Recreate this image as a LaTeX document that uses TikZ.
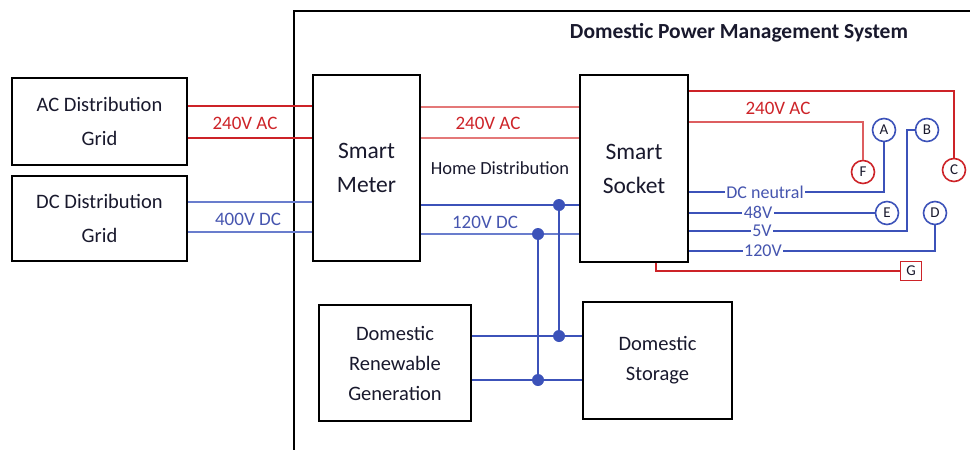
\documentclass[tikz,border=0pt]{standalone}
\usepackage{fontspec}
\setmainfont{Carlito}
\definecolor{acred}{RGB}{205,35,40}
\definecolor{lightred}{RGB}{228,120,120}
\definecolor{dcblue}{RGB}{60,82,185}
\definecolor{lightblue}{RGB}{105,125,205}
\definecolor{lblblue}{RGB}{70,85,175}
\definecolor{txt}{RGB}{25,25,45}
\begin{document}
\begin{tikzpicture}[x=1pt,y=-1pt,
  box/.style={draw=black,line width=2pt,fill=white,align=center,text=txt,inner sep=0pt,font=\fontsize{20.5}{34}\selectfont},
  bigbox/.style={box,font=\fontsize{23.5}{34}\selectfont},
  genbox/.style={box,font=\fontsize{20.5}{30}\selectfont},
  cir/.style={circle,draw,line width=1.6pt,fill=white,minimum size=23pt,inner sep=0pt,font=\fontsize{15}{15}\selectfont,text=txt},
  acline/.style={draw=acred,line width=2pt},
  pinkline/.style={draw=lightred,line width=2.2pt},
  dcline/.style={draw=dcblue,line width=2pt},
  ldcline/.style={draw=lightblue,line width=1.8pt},
  redlbl/.style={text=acred,font=\fontsize{19}{19}\selectfont,inner sep=1pt},
  bluelbl/.style={text=lblblue,font=\fontsize{19}{19}\selectfont,inner sep=1pt},
  onlbl/.style={text=lblblue,font=\fontsize{18}{18}\selectfont,fill=white,inner sep=1.5pt},
  dot/.style={circle,fill=dcblue,inner sep=0pt,minimum size=12pt}
]
\useasboundingbox (0,0) rectangle (970,450);
% outer system frame (open at right and bottom)
\draw[line width=2pt] (970,11) coordinate (fr1) -- (294,11) coordinate (fr2) -- (294,450) coordinate (fr3);
\node[font=\bfseries\fontsize{21.5}{22}\selectfont,text=txt] (title) at (739,33) {Domestic Power Management System};

% boxes
\node[box,minimum width=175pt,minimum height=87pt] (ac) at (99.5,121.5) {AC Distribution\\Grid};
\node[box,minimum width=175pt,minimum height=85pt] (dc) at (99.5,218.5) {DC Distribution\\Grid};
\node[bigbox,minimum width=107pt,minimum height=186pt] (meter) at (366.5,168) {Smart\\Meter};
\node[bigbox,minimum width=108pt,minimum height=187pt,text depth=-3pt] (socket) at (634,168.5) {Smart\\Socket};
\node[genbox,minimum width=152pt,minimum height=116pt] (ren) at (395,363) {Domestic\\Renewable\\Generation};
\node[genbox,minimum width=149pt,minimum height=117pt] (sto) at (657.5,360.5) {Domestic\\Storage};

% grid to meter
\draw[acline] (ac.east |- 0,106) -- (meter.west |- 0,106);
\draw[acline] (ac.east |- 0,138) -- (meter.west |- 0,138);
\node[redlbl] (l1) at (245,123) {240V AC};
\draw[ldcline] (dc.east |- 0,202) -- (meter.west |- 0,202);
\draw[ldcline] (dc.east |- 0,232) -- (meter.west |- 0,232);
\node[bluelbl] (l2) at (248,219) {400V DC};

% meter to socket
\draw[pinkline] (meter.east |- 0,107) -- (socket.west |- 0,107);
\draw[pinkline,line width=1.8pt] (meter.east |- 0,138) -- (socket.west |- 0,138);
\node[redlbl] (l3) at (488,123) {240V AC};
\node[font=\fontsize{18.5}{19}\selectfont,text=txt] (hd) at (500,168) {Home Distribution};
\coordinate (j1) at (559,205);
\coordinate (j2) at (538,234);
\coordinate (j3) at (559,336);
\coordinate (j4) at (538,380);
\draw[dcline] (meter.east |- j1) -- (socket.west |- j1);
\draw[ldcline] (meter.east |- j2) -- (socket.west |- j2);
\node[bluelbl] (l4) at (485,222) {120V DC};
\draw[dcline] (j1) -- (j3);
\draw[dcline] (j2) -- (j4);
\draw[dcline] (ren.east |- j3) -- (sto.west |- j3);
\draw[dcline] (ren.east |- j4) -- (sto.west |- j4);
\node[dot] (d1) at (j1) {};
\node[dot] (d2) at (j2) {};
\node[dot] (d3) at (j3) {};
\node[dot] (d4) at (j4) {};

% socket outputs
\node[cir,draw=dcblue] (A) at (884,130) {A};
\node[cir,draw=dcblue] (B) at (927,130) {B};
\node[cir,draw=acred] (C) at (954,170) {C};
\node[cir,draw=dcblue] (D) at (935,213) {D};
\node[cir,draw=dcblue] (E) at (887,213) {E};
\node[cir,draw=acred] (F) at (863,172) {F};
\node[draw=acred,line width=1.6pt,minimum width=21pt,minimum height=19pt,inner sep=0pt,font=\fontsize{15}{15}\selectfont,text=txt] (G) at (911,271) {G};

\draw[acline] (socket.east |- 0,91) -| (C.north);
\draw[acline,draw=lightred!70!acred] (socket.east |- 0,122) -| (F.north);
\node[redlbl] (l5) at (778,108) {240V AC};
\draw[dcline] (socket.east |- 0,192) -| (A.south);
\draw[dcline] (socket.east |- E) -- (E.west);
\draw[dcline] (socket.east |- 0,231) -- (907,231) |- (B.west);
\draw[dcline] (socket.east |- 0,251) -| (D.south);
\draw[acline] (socket.south -| 656,0) |- (G.west);
\node[onlbl] (n1) at (765,192) {DC neutral};
\node[onlbl] (n2) at (758,212) {48V};
\node[onlbl] (n3) at (762,231) {5V};
\node[onlbl] (n4) at (763,251) {120V};
\end{tikzpicture}
\end{document}
